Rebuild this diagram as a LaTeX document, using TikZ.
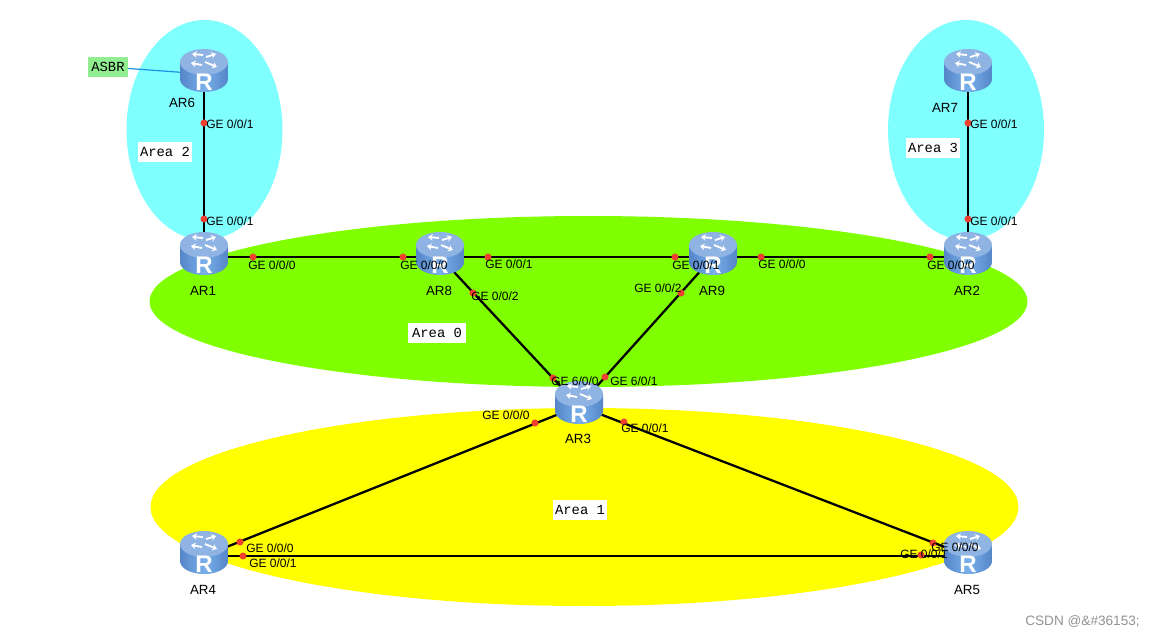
\documentclass[tikz,border=0pt]{standalone}
\usepackage{fontspec}
\setmainfont{Liberation Sans}
\newfontfamily\areafont{Liberation Mono}
\usetikzlibrary{arrows.meta}
\tikzset{
  zone/.style={draw=none},
  portdot/.style={circle,fill=dotred,draw=none,minimum size=5.3pt,inner sep=0pt},
  portlabel/.style={anchor=west,inner sep=0pt,font=\fontsize{9pt}{10pt}\selectfont,text=black},
  routername/.style={inner sep=0pt,font=\fontsize{10pt}{12pt}\selectfont,text=black},
  routerbase/.style={inner sep=0pt,minimum width=36pt,minimum height=32pt,draw=none},
  link/.style={draw=black,line width=1.7pt},
  arealabel/.style={fill=white,inner sep=0pt,minimum height=15pt,font=\areafont\fontsize{10.4pt}{11pt}\selectfont,text=black},
  routerpic/.pic={
    \path[left color=routeredge,right color=routeredge,middle color=routermid]
      (-24,-12) -- (-24,5) .. controls (-24,12.2) and (-13.2,18) .. (0,18) .. controls (13.2,18) and (24,12.2) .. (24,5) -- (24,-12) -- cycle;
    \path[fill=routertopa] (0,-12) ellipse[x radius=24,y radius=13];
    \foreach \ax/\ay/\bx/\by in {-1/-19/-12/-20, 2/-17/12/-20, -2/-9/-13/-11, 1/-12/13/-7}{
      \draw[white,line width=1.4pt,-{Stealth[length=3.5pt,width=5pt]}] (\ax,\ay) -- (\bx,\by);
    }
    \node[inner sep=0pt,text=white,font=\bfseries\fontsize{18pt}{20pt}\selectfont] at (0,8.5) {R};
  }
}
\definecolor{dotred}{HTML}{F04030}
\definecolor{routeredge}{HTML}{5585C8}
\definecolor{routermid}{HTML}{78B0EA}
\definecolor{routertopa}{HTML}{8FB3E2}
\definecolor{zonecyan}{HTML}{80FFFF}
\definecolor{zonegreen}{HTML}{80FF00}
\definecolor{zoneyellow}{HTML}{FFFF00}
\definecolor{asbrgreen}{HTML}{90EE90}
\definecolor{asbrline}{HTML}{1E90E0}
\begin{document}
\begin{tikzpicture}[x=0.75pt,y=-0.75pt]
\useasboundingbox (0,0) rectangle (1153,638);
\fill[white] (0,0) rectangle (1153,638);
% zones
\path[zone,fill=zonecyan] (204.5,130) ellipse[x radius=78,y radius=110];
\path[zone,fill=zonecyan] (966,130) ellipse[x radius=78,y radius=110];
\path[zone,fill=zonegreen] (588.5,301.5) ellipse[x radius=439,y radius=85.5];
\path[zone,fill=zoneyellow] (584.5,507) ellipse[x radius=434,y radius=99];
% router anchors
\node[routerbase] (ar6) at (204,74) {};
\node[routerbase] (ar7) at (968,74) {};
\node[routerbase] (ar1) at (204,257) {};
\node[routerbase] (ar8) at (440,257) {};
\node[routerbase] (ar9) at (713,257) {};
\node[routerbase] (ar2) at (968,257) {};
\node[routerbase] (ar3) at (579,406) {};
\node[routerbase] (ar4) at (204,556) {};
\node[routerbase] (ar5) at (968,556) {};
\node[fill=asbrgreen,inner sep=0pt,minimum width=30pt,minimum height=15pt,font=\areafont\fontsize{10.4pt}{11pt}\selectfont] (asbr) at (108,67) {ASBR};
% connectors
\draw[asbrline,line width=0.9pt] (asbr) -- (ar6.center);
\foreach \a/\b in {ar6/ar1,ar7/ar2,ar1/ar8,ar8/ar9,ar9/ar2,ar8/ar3,ar9/ar3,ar3/ar4,ar3/ar5,ar4/ar5}{
  \draw[link] (\a.center) -- (\b.center);
}
% router glyphs
\foreach \r in {ar6,ar7,ar1,ar8,ar9,ar2,ar3,ar4,ar5}{
  \pic at (\r.center) {routerpic};
}
% router names
\node[routername] (n6) at (182,103) {AR6};
\node[routername] (n7) at (945,108) {AR7};
\node[routername] (n1) at (203,291) {AR1};
\node[routername] (n8) at (439,291) {AR8};
\node[routername] (n9) at (712,291) {AR9};
\node[routername] (n2) at (967,291) {AR2};
\node[routername] (n3) at (578,439) {AR3};
\node[routername] (n4) at (203,590) {AR4};
\node[routername] (n5) at (967,590) {AR5};
% port dots
\foreach \x/\y [count=\i] in {204/123,204/219,968/123,968/219,253/257,403/257,488/257,675/257,761/257,930/257,473/293,681/293,553/378,605/377,535/423,624/422,240/542,243/556,933/543,921/555}{
  \node[portdot] (dot\i) at (\x,\y) {};
}
% port labels
\foreach \x/\y/\t [count=\i] in {
 206/124/GE 0\slash 0\slash 1,206/221/GE 0\slash 0\slash 1,970/124/GE 0\slash 0\slash 1,970/221/GE 0\slash 0\slash 1,
 248/265/GE 0\slash 0\slash 0,400/265/GE 0\slash 0\slash 0,485/264/GE 0\slash 0\slash 1,672/265/GE 0\slash 0\slash 1,
 758/264/GE 0\slash 0\slash 0,927/265/GE 0\slash 0\slash 0,471/296/GE 0\slash 0\slash 2,634/288/GE 0\slash 0\slash 2,
 551/381/GE 6\slash 0\slash 0,610/381/GE 6\slash 0\slash 1,482/415/GE 0\slash 0\slash 0,621/428/GE 0\slash 0\slash 1,
 246/548/GE 0\slash 0\slash 0,249/563/GE 0\slash 0\slash 1,931/547/GE 0\slash 0\slash 0,900/554/GE 0\slash 0\slash 1}{
  \node[portlabel] (lab\i) at (\x,\y) {\t};
}
% area labels
\node[arealabel,minimum width=41pt] (area2) at (165,152) {Area 2};
\node[arealabel,minimum width=41pt] (area3) at (933,148) {Area 3};
\node[arealabel,minimum width=43.5pt] (area0) at (437,333) {Area 0};
\node[arealabel,minimum width=41pt] (area1) at (580,510) {Area 1};
% watermark
\node[inner sep=0pt,text=gray!85,font=\fontsize{10.2pt}{12pt}\selectfont] (mark) at (1082.5,622) {CSDN @\&\#36153;};
\end{tikzpicture}
\end{document}
